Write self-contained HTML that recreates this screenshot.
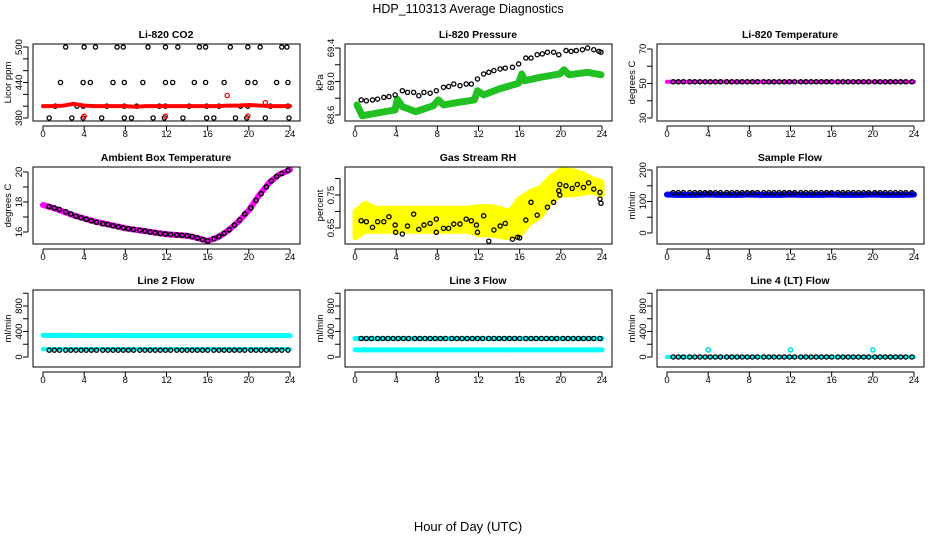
<!DOCTYPE html>
<html><head><meta charset="utf-8"><title>HDP_110313 Average Diagnostics</title>
<style>
html,body{margin:0;padding:0;background:#fff;}
svg{display:block;font-family:"Liberation Sans",Arial,sans-serif;}
</style></head>
<body>
<svg id="chart" width="936" height="540" viewBox="0 0 936 540" xmlns="http://www.w3.org/2000/svg">
<rect x="0" y="0" width="936" height="540" fill="#fff"/>
<text x="468" y="13" text-anchor="middle" font-size="12.5">HDP_110313  Average Diagnostics</text>
<text x="468" y="531" text-anchor="middle" font-size="13">Hour of Day (UTC)</text>
</svg>
<script>
// ---------- data ----------
const hoursB = [0.6,1.1,1.6,2.2,2.7,3.2,3.7,4.2,4.7,5.2,5.8,6.3,6.8,7.3,7.8,8.3,8.8,9.4,9.9,10.4,10.9,11.4,11.9,12.4,13.0,13.5,14.0,14.5,15.0,15.5,16.0,16.6,17.1,17.6,18.1,18.6,19.1,19.6,20.2,20.7,21.2,21.7,22.2,22.7,23.2,23.8];
const hoursC = [0,1,2,3,4,5,6,7,8,9,10,11,12,13,14,15,16,17,18,19,20,21,22,23,24];
const xTicks = [0,4,8,12,16,20,24];

const co2H = [2.2,4.0,5.1,7.2,7.8,10.2,11.9,13.1,15.2,15.8,18.2,19.9,21.1,23.2,23.7, 1.7,3.9,4.6,6.8,7.9,9.7,11.9,12.6,14.7,15.8,17.6,19.9,20.6,22.7,23.8, 1.2,3.3,3.9,6.2,7.9,9.1,11.3,11.9,14.2,15.9,17.1,19.2,19.9,22.1,23.8, 0.6,2.8,3.9,5.7,7.9,8.6,10.7,11.8,13.6,15.9,16.6,18.7,19.8,21.6,23.9];
const co2V = [500,500,500,500,500,500,500,500,500,500,500,500,500,500,500, 440,440,440,440,440,440,440,440,440,440,440,440,440,440,440, 400,400,400,400,400,400,400,400,400,400,400,400,400,400,400, 380,380,380,380,380,380,380,380,380,380,380,380,380,380,380];
const co2Red = [400,400,401,404,401,400,400,400,400,399,400,400,400,400,400,400,400,400,401,401,402,401,400,400,400];
const co2RedOutH = [4.0,11.9,19.9,17.9,21.6];
const co2RedOutV = [383,383,383,418,406];

const presH = [0.6,1.1,1.7,2.2,2.8,3.3,3.9,4.6,5.1,5.7,6.2,6.7,7.3,7.9,8.6,9.1,9.6,10.2,10.8,11.3,11.9,12.5,13.0,13.5,14.1,14.6,15.3,15.9,16.6,17.1,17.7,18.2,18.7,19.3,19.8,20.5,21.0,21.5,22.1,22.6,23.2,23.7,23.9];
const presV = [68.78,68.77,68.78,68.79,68.81,68.82,68.84,68.89,68.87,68.87,68.83,68.87,68.86,68.89,68.93,68.94,68.97,68.95,68.97,68.97,69.03,69.09,69.11,69.13,69.15,69.16,69.17,69.21,69.28,69.28,69.32,69.33,69.35,69.35,69.32,69.37,69.36,69.37,69.38,69.40,69.38,69.36,69.35];
const greenH = [0.2,0.7,2.0,3.9,4.1,4.6,5.9,7.6,8.1,8.6,10.0,11.6,11.9,12.5,14.0,15.9,16.2,16.5,18.0,19.9,20.3,20.8,22.6,23.9];
const greenV = [68.72,68.59,68.62,68.66,68.79,68.70,68.64,68.71,68.78,68.72,68.75,68.78,68.89,68.84,68.91,68.98,69.09,69.01,69.05,69.09,69.14,69.08,69.11,69.08];

const tempMag = [51,51,51,51,51,51,51,51,51,51,51,51,51,51,51,51,51,51,51,51,51,51,51,51,51];
const tempBlack = [51,51,51,51,51,51,51,51,51,51,51,51,51,51,51,51,51,51,51,51,51,51,51,51,51,51,51,51,51,51,51,51,51,51,51,51,51,51,51,51,51,51,51,51,51,51];

const ambMag = [17.8,17.6,17.35,17.1,16.9,16.7,16.55,16.4,16.25,16.15,16.05,15.95,15.85,15.8,15.75,15.6,15.4,15.65,16.1,16.7,17.45,18.45,19.3,19.85,20.15];
const ambBlack = [17.7,17.6,17.5,17.35,17.2,17.05,16.95,16.85,16.75,16.65,16.55,16.5,16.42,16.35,16.28,16.22,16.17,16.12,16.07,16.0,15.95,15.9,15.87,15.83,15.8,15.78,15.75,15.7,15.6,15.5,15.42,15.55,15.7,15.9,16.15,16.45,16.8,17.2,17.6,18.1,18.55,19.0,19.4,19.7,19.9,20.1];

const rhUpper = [0.70,0.725,0.71,0.71,0.71,0.71,0.71,0.71,0.71,0.71,0.71,0.71,0.715,0.715,0.71,0.70,0.74,0.76,0.772,0.805,0.826,0.825,0.817,0.80,0.79];
const rhLower = [0.62,0.64,0.64,0.64,0.64,0.64,0.64,0.64,0.64,0.64,0.64,0.64,0.63,0.63,0.625,0.62,0.63,0.665,0.684,0.73,0.75,0.75,0.755,0.76,0.75];
const rhH = [0.6,1.1,1.7,2.2,2.8,3.3,3.9,3.95,4.6,5.1,5.7,6.2,6.7,7.3,7.9,7.9,8.6,9.1,9.6,10.2,10.8,11.3,11.8,11.9,12.5,13.0,13.5,14.1,14.6,15.3,15.8,16.0,16.6,17.1,17.7,18.7,19.3,19.8,19.9,19.9,20.5,21.1,21.6,22.2,22.7,23.2,23.8,23.8,23.9];
const rhV = [0.672,0.669,0.652,0.669,0.669,0.684,0.659,0.637,0.632,0.656,0.692,0.646,0.659,0.664,0.677,0.637,0.649,0.649,0.662,0.662,0.677,0.672,0.659,0.637,0.687,0.61,0.644,0.656,0.664,0.616,0.622,0.62,0.674,0.728,0.689,0.713,0.728,0.763,0.782,0.75,0.778,0.77,0.782,0.773,0.787,0.768,0.758,0.738,0.725];

const sampBlue = [122,121,121,121,122,121,121,121,122,121,121,121,122,121,121,121,122,121,121,121,122,121,121,121,122];
const sampBlack = [128,128,128,128,128,128,128,128,128,128,128,128,128,128,128,128,128,128,128,128,128,128,128,128,128,128,128,128,128,128,128,128,128,128,128,128,128,128,128,128,128,128,128,128,128,128];

const l2Hi = [340,340,340,340,338,338,338,338,336,336,336,336,336,336,336,336,336,336,336,336,336,336,336,336,336];
const l2Lo = [123,123,123,123,123,123,123,123,123,123,123,123,123,123,123,123,123,123,123,123,123,123,123,123,123];
const l2Black = [107,107,107,107,107,107,107,107,107,107,107,107,107,107,107,107,107,107,107,107,107,107,107,107,107,107,107,107,107,107,107,107,107,107,107,107,107,107,107,107,107,107,107,107,107,107];
const l3Hi = [290,290,290,290,290,290,290,290,290,290,290,290,290,290,290,290,290,290,290,290,290,290,290,290,290];
const l3Lo = [112,112,112,112,112,112,112,112,112,112,112,112,112,112,112,112,112,112,112,112,112,112,112,112,112];
const l3Black = [290,290,290,290,290,290,290,290,290,290,290,290,290,290,290,290,290,290,290,290,290,290,290,290,290,290,290,290,290,290,290,290,290,290,290,290,290,290,290,290,290,290,290,290,290,290];
const l4Cyan = [0,0,0,0,0,0,0,0,0,0,0,0,0,0,0,0,0,0,0,0,0,0,0,0,0];
const l4SpikeH = [4,12,20];
const l4SpikeV = [112,112,112];
const l4Black = [0,0,0,0,0,0,0,0,0,0,0,0,0,0,0,0,0,0,0,0,0,0,0,0,0,0,0,0,0,0,0,0,0,0,0,0,0,0,0,0,0,0,0,0,0,0];

// ---------- drawing ----------
const NS = "http://www.w3.org/2000/svg";
const svg = document.getElementById('chart');
function mk(tag, attrs, parent){
  const e = document.createElementNS(NS, tag);
  for (const k in attrs) e.setAttribute(k, attrs[k]);
  (parent||svg).appendChild(e);
  return e;
}

function panel(col, row, title, ylab, yDom, yTicks, yLabels, name, drawFn){
  const ox = col*312, oy = row*123;
  const L = ox+33, R = ox+300, T = oy+44, B = oy+121;
  const g = mk('g', {});
  
  
  const xs = h => ox + 43 + h*(247/24);
  const ys = v => B - (v - yDom[0])/(yDom[1]-yDom[0])*(B-T);
  const t = mk('text', {x: ox+166, y: oy+38, 'text-anchor':'middle', 'font-size':10.5, 'font-weight':'bold'}, g);
  t.textContent = title;
  
  
  const dg = mk('g', {}, g);
  
  
  drawFn(dg, xs, ys);
  const box = mk('rect', {x:L, y:T, width:R-L, height:B-T, fill:'none', stroke:'#000', 'stroke-width':1}, g);
  
  
  const xa = mk('g', {}, g);
  
  
  mk('line', {x1:xs(xTicks[0]), x2:xs(xTicks[xTicks.length-1]), y1:B+5, y2:B+5, stroke:'#000'}, xa);
  xTicks.forEach(h => {
    mk('line', {x1:xs(h), x2:xs(h), y1:B+5, y2:B+10, stroke:'#000'}, xa);
    const tl = mk('text', {x:xs(h), y:B+16, 'text-anchor':'middle', 'font-size':9.5}, xa);
    tl.textContent = h;
    
    
  });
  const ya = mk('g', {}, g);
  
  
  mk('line', {x1:L-5, x2:L-5, y1:ys(yTicks[0]), y2:ys(yTicks[yTicks.length-1]), stroke:'#000'}, ya);
  yTicks.forEach((v,i) => {
    mk('line', {x1:L-10, x2:L-5, y1:ys(v), y2:ys(v), stroke:'#000'}, ya);
    if (yLabels[i] !== '') {
      const tl = mk('text', {x:0, y:0, 'text-anchor':'middle', 'font-size':9.5, transform:`translate(${ox+22},${ys(v)}) rotate(-90)`}, ya);
      tl.textContent = yLabels[i];
      
      
    }
  });
  const yt = mk('text', {x:0, y:0, 'text-anchor':'middle', 'font-size':9.5, transform:`translate(${ox+11},${(T+B)/2}) rotate(-90)`}, g);
  yt.textContent = ylab;
  
  
}

function pts(g, H, V, xs, ys, color, r, sw, fill){
  H.forEach((h,i) => {
    const c = mk('circle', {cx:xs(h), cy:ys(V[i]), r:r, fill:fill||'none', stroke:color, 'stroke-width':sw}, g);
    
    
  });
}
function band(g, H, V, xs, ys, color, w){
  const p = mk('polyline', {points:H.map((h,i)=>xs(h)+','+ys(V[i])).join(' '), fill:'none', stroke:color, 'stroke-width':w, 'stroke-linejoin':'round', 'stroke-linecap':'round'}, g);
  
  
}
function area(g, H, U, Lo, xs, ys, color){
  const up = H.map((h,i)=>xs(h)+','+ys(U[i]));
  const lo = H.map((h,i)=>xs(h)+','+ys(Lo[i])).reverse();
  const p = mk('polygon', {points:up.concat(lo).join(' '), fill:color, stroke:color, 'stroke-width':5, 'stroke-linejoin':'round'}, g);
  
  
}
const PR = 2.1, PW = 1.3;

panel(0,0,'Li-820 CO2','Licor ppm',[374.9,505.1],[380,400,420,440,460,480,500],['380','','','440','','','500'],'co2',(g,xs,ys)=>{
  pts(g, co2H, co2V, xs, ys, '#000', PR, PW);
  band(g, hoursC, co2Red, xs, ys, '#f00', 4);
  pts(g, co2RedOutH, co2RedOutV, xs, ys, '#f00', PR, PW);
});
panel(1,0,'Li-820 Pressure','kPa',[68.528,69.448],[68.6,68.8,69.0,69.2,69.4],['68.6','','69.0','','69.4'],'pressure',(g,xs,ys)=>{
  band(g, greenH, greenV, xs, ys, '#22c022', 7);
  pts(g, presH, presV, xs, ys, '#000', PR, PW);
});
panel(2,0,'Li-820 Temperature','degrees C',[28.26,72.9],[30,40,50,60,70],['30','','50','','70'],'temperature',(g,xs,ys)=>{
  band(g, hoursC, tempMag, xs, ys, '#f0f', 4);
  pts(g, hoursB, tempBlack, xs, ys, '#000', PR, PW);
});
panel(0,1,'Ambient Box Temperature','degrees C',[15.2,20.33],[16,17,18,19,20],['16','','18','','20'],'ambient',(g,xs,ys)=>{
  band(g, hoursC, ambMag, xs, ys, '#f0f', 6);
  pts(g, hoursB, ambBlack, xs, ys, '#000', PR, 1.5);
});
panel(1,1,'Gas Stream RH','percent',[0.6015,0.835],[0.65,0.70,0.75,0.80],['0.65','','0.75',''],'rh',(g,xs,ys)=>{
  area(g, hoursC, rhUpper, rhLower, xs, ys, '#ffff00');
  pts(g, rhH, rhV, xs, ys, '#000', PR, PW);
});
panel(2,1,'Sample Flow','ml/min',[-35,209.5],[0,50,100,150,200],['0','','100','','200'],'sample-flow',(g,xs,ys)=>{
  band(g, hoursC, sampBlue, xs, ys, '#0000ff', 6);
  pts(g, hoursB, sampBlack, xs, ys, '#000', PR, PW);
});
panel(0,2,'Line 2 Flow','ml/min',[-157,1051],[0,200,400,600,800,1000],['0','','400','','800',''],'line2-flow',(g,xs,ys)=>{
  band(g, hoursC, l2Hi, xs, ys, '#00ffff', 5);
  band(g, hoursC, l2Lo, xs, ys, '#00ffff', 4);
  pts(g, hoursB, l2Black, xs, ys, '#000', PR, PW);
});
panel(1,2,'Line 3 Flow','ml/min',[-157,1051],[0,200,400,600,800,1000],['0','','400','','800',''],'line3-flow',(g,xs,ys)=>{
  band(g, hoursC, l3Hi, xs, ys, '#00ffff', 5);
  band(g, hoursC, l3Lo, xs, ys, '#00ffff', 5);
  pts(g, hoursB, l3Black, xs, ys, '#000', PR, PW);
});
panel(2,2,'Line 4 (LT) Flow','ml/min',[-157,1051],[0,200,400,600,800,1000],['0','','400','','800',''],'line4-flow',(g,xs,ys)=>{
  band(g, hoursC, l4Cyan, xs, ys, '#00ffff', 4);
  pts(g, l4SpikeH, l4SpikeV, xs, ys, '#00e0e0', PR, 1.5);
  pts(g, hoursB, l4Black, xs, ys, '#000', PR, PW);
});
</script>
</body></html>
